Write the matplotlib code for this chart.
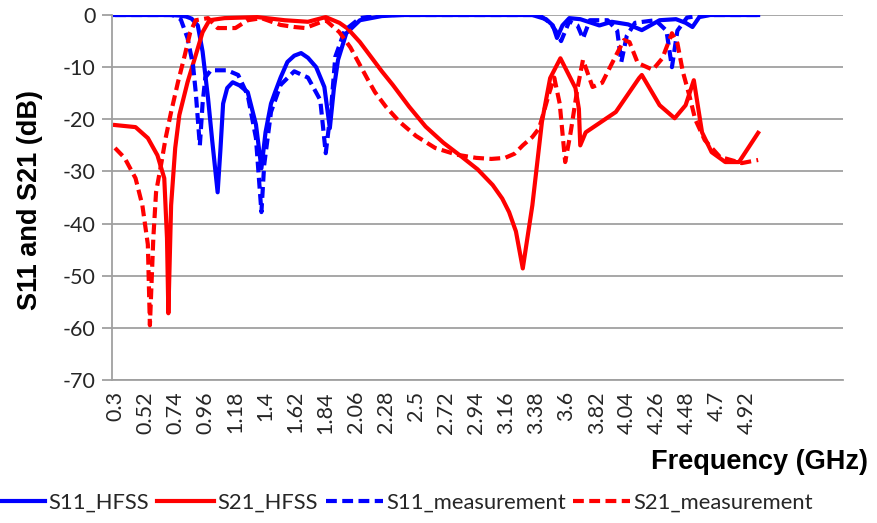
import matplotlib
matplotlib.use("Agg")
import matplotlib.pyplot as plt
import numpy as np

plt.rcParams["axes.unicode_minus"] = False

# ---------------- data ----------------
s11_hfss_f = [0.30, 0.70, 0.77, 0.82, 0.86, 0.905, 0.94, 0.98, 1.01, 1.05, 1.07, 1.09, 1.12, 1.16,
              1.21, 1.27, 1.33, 1.37, 1.40, 1.44, 1.47, 1.51, 1.56, 1.61, 1.66, 1.71, 1.77, 1.83,
              1.87, 1.90, 1.93, 1.99, 2.09, 2.25, 2.40, 3.35, 3.45, 3.50, 3.53, 3.57, 3.62, 3.70,
              3.84, 3.93, 4.05, 4.15, 4.28, 4.40, 4.47, 4.52, 4.57, 4.65, 5.00]
s11_hfss_db = [0, 0, -0.1, -0.3, -0.7, -2.0, -7, -16, -24, -34, -26, -17, -14, -12.9,
               -13.5, -14.8, -21, -29.4, -22.5, -17, -14.8, -12, -9, -7.8, -7.3, -8.2, -10, -13.8,
               -21.7, -14, -8.6, -3.5, -1.0, -0.2, 0, 0, -0.8, -2, -4.4, -2, -0.6, -0.8,
               -2, -1.3, -1.8, -2.9, -1.0, -0.8, -1.5, -2.3, -0.4, 0, 0]

s21_hfss_f = [0.30, 0.45, 0.54, 0.61, 0.66, 0.68, 0.69, 0.71, 0.74, 0.77, 0.83, 0.89, 0.94, 0.99,
              1.10, 1.34, 1.54, 1.71, 1.84, 1.94, 2.00, 2.09, 2.17, 2.25, 2.33, 2.45, 2.57, 2.70,
              2.82, 2.95, 3.06, 3.13, 3.18, 3.23, 3.28, 3.35,
              3.42, 3.48, 3.555, 3.665, 3.69, 3.70, 3.74, 3.96, 4.13, 4.15, 4.28, 4.39, 4.47, 4.53,
              4.59, 4.66, 4.76, 4.86, 5.00]
s21_hfss_db = [-21.1, -21.5, -23.6, -26.9, -31.3, -42.8, -57.2, -36.5, -25.5, -19.2, -12.9, -7.7, -3.3, -1.0,
               -0.6, -0.4, -1.0, -1.3, -0.4, -1.5, -2.6, -5.2, -8.0, -10.8, -13.4, -17.6, -21.4, -24.5,
               -26.9, -29.6, -32.6, -35.2, -37.8, -41.5, -48.6, -36.5,
               -20.5, -12.1, -8.3, -14, -18, -25, -22.5, -18.6, -12.1, -11.5, -17.3, -19.8, -17.3, -12.5,
               -22.5, -26.3, -28.2, -28.2, -22.6]

s11_meas_f = [0.30, 0.72, 0.78, 0.83, 0.87, 0.89, 0.92, 0.94, 0.96, 1.00, 1.12, 1.20, 1.27, 1.33,
              1.37, 1.39, 1.44, 1.51, 1.61, 1.71, 1.80, 1.84, 1.88, 1.91, 1.98, 2.09, 2.25, 3.40,
              3.48, 3.52, 3.56, 3.62, 3.68, 3.72, 3.77, 3.90, 3.97, 4.00, 4.04, 4.10, 4.25, 4.33,
              4.37, 4.41, 4.48, 4.60, 5.00]
s11_meas_db = [0, 0, -0.8, -4.4, -9.6, -14.8, -25, -17, -12, -10.6, -10.6, -11.5, -15.4, -23.6,
               -37.8, -28.8, -18.6, -13.4, -10.8, -12, -16.3, -26.5, -17.7, -8, -2.9, -0.6, 0, 0,
               -1.5, -3, -5, -1.2, -2, -4.5, -1, -1, -3, -9, -4, -1.5, -1, -3,
               -10, -3, -0.5, 0, 0]

s21_meas_f = [0.30, 0.37, 0.45, 0.50, 0.54, 0.555, 0.58, 0.60, 0.64, 0.67, 0.71, 0.76, 0.81, 0.85,
              0.89, 0.98, 1.05, 1.18, 1.27, 1.37, 1.51, 1.61, 1.69, 1.84, 1.94, 2.02, 2.09, 2.15,
              2.20, 2.28, 2.38, 2.50, 2.64, 2.80, 2.94, 3.05, 3.15, 3.22, 3.28, 3.35,
              3.40, 3.475, 3.51, 3.55, 3.59, 3.63, 3.68, 3.72, 3.79, 3.86,
              3.97, 4.02, 4.06, 4.12, 4.23, 4.30, 4.37, 4.41, 4.45, 4.50, 4.54, 4.61, 4.72, 4.88, 5.00]
s21_meas_db = [-25.5, -27.4, -31.3, -36.5, -44, -59.5, -42.8, -34, -28.2, -23.6, -18.6, -12.9, -7.7, -3.3,
               -1.0, -0.6, -2.5, -2.5, -1.0, -0.6, -1.9, -2.3, -2.5, -1.0, -3.3, -6.2, -9.6, -12.5,
               -14.8, -17.6, -20.5, -23.2, -25.5, -26.8, -27.4, -27.6, -27.4, -26.6, -25, -23.4,
               -21.7, -14.8, -12, -17, -28.2, -22.5, -14, -8.6, -13.8, -13,
               -7.3, -4.8, -5.2, -9.2, -10.5, -8.3, -3.5, -5.4, -10.9, -15.7, -20, -24, -27.2, -28.4, -27.8]

xtick_vals = [0.3, 0.52, 0.74, 0.96, 1.18, 1.4, 1.62, 1.84, 2.06, 2.28, 2.5, 2.72, 2.94,
              3.16, 3.38, 3.6, 3.82, 4.04, 4.26, 4.48, 4.7, 4.92]
xtick_labels = ["0.3", "0.52", "0.74", "0.96", "1.18", "1.4", "1.62", "1.84", "2.06", "2.28", "2.5",
                "2.72", "2.94", "3.16", "3.38", "3.6", "3.82", "4.04", "4.26", "4.48", "4.7", "4.92"]
ytick_vals = [0, -10, -20, -30, -40, -50, -60, -70]

# ---------------- figure ----------------
small_font = "Lato"
fig = plt.figure(figsize=(8.77, 5.23), dpi=100)
ax = fig.add_axes([0.1277, 0.2734, 0.9612 - 0.1277, 0.9713 - 0.2734])

blue = "#0000FF"
red = "#FF0000"
lw = 3.0
dash = (0, (2.6, 1.3))

ax.plot(s11_hfss_f, s11_hfss_db, color=blue, lw=lw, label="S11_HFSS", solid_joinstyle="round")
ax.plot(s21_hfss_f, s21_hfss_db, color=red, lw=lw, label="S21_HFSS", solid_joinstyle="round")
ax.plot(s11_meas_f, s11_meas_db, color=blue, lw=lw, ls=dash, label="S11_measurement")
ax.plot(s21_meas_f, s21_meas_db, color=red, lw=lw, ls=dash, label="S21_measurement")

ax.set_xlim(0.278, 5.62)
ax.set_ylim(-70, 0)
ax.set_yticks(ytick_vals)
ax.set_xticks(xtick_vals)
ax.set_xticklabels(xtick_labels, rotation=90)

grid_c = "#A0A0A0"
ax.yaxis.grid(True, color=grid_c, lw=1.3)
ax.set_axisbelow(True)
for s in ["top", "right"]:
    ax.spines[s].set_visible(False)
ax.spines["left"].set_color(grid_c)
ax.spines["left"].set_linewidth(1.3)
ax.spines["bottom"].set_color(grid_c)
ax.spines["bottom"].set_linewidth(1.3)

ax.tick_params(axis="y", direction="out", length=7, width=1.3, color=grid_c, pad=5,
               labelsize=15.5, labelcolor="#262626")
ax.tick_params(axis="x", length=0, pad=8, labelsize=15.5, labelcolor="#262626")
for lab in ax.get_xticklabels() + ax.get_yticklabels():
    lab.set_fontfamily(small_font)

fig.text(0.034, 0.618, "S11 and S21 (dB)", rotation=90, ha="center", va="center",
         fontsize=19.5, fontweight="bold", family="Liberation Sans")
fig.text(0.99, 0.117, "Frequency (GHz)", ha="right", va="center",
         fontsize=19.5, fontweight="bold", family="Liberation Sans")

leg = fig.legend(loc="center", bbox_to_anchor=(0.457, 0.038), ncol=4, frameon=False,
                 handlelength=2.6, handletextpad=0.15, columnspacing=0.35,
                 prop={"family": small_font, "size": 15.8})
for t in leg.get_texts():
    t.set_color("#262626")

fig.savefig("out.png", dpi=100)
